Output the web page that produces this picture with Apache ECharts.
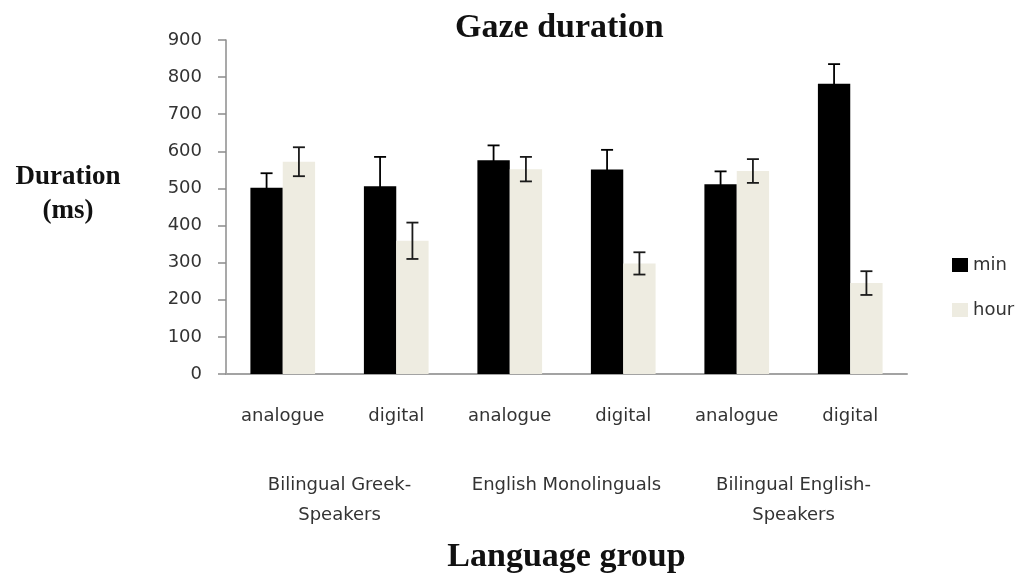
<!DOCTYPE html>
<html style="height: 100%">
<head>
<meta charset="utf-8">
<script type="text/javascript" src="https://cdn.jsdelivr.net/npm/echarts@6/dist/echarts.min.js"></script>
</head>
<body style="height: 100%; margin: 0; background: #fff">
<div id="container" style="width: 1019px; height: 576px"></div>
<script type="text/javascript">
// values
var conditions = ['analogue', 'digital', 'analogue', 'digital', 'analogue', 'digital'];
var groups = ['Bilingual Greek-\nSpeakers', 'English Monolinguals', 'Bilingual English-\nSpeakers'];
var minValues = [502, 506, 576, 551, 511, 782];
var minErr = [39, 79, 40, 53, 35, 53];
var hourValues = [572, 359, 552, 298, 547, 245];
var hourErr = [39, 49, 33, 30, 32, 32];

var GAP = 0.43;
var sans = 'DejaVu Sans';
var serif = 'Liberation Serif';

function errData(vals, errs) {
    var out = [];
    for (var i = 0; i < vals.length; i++) {
        out.push([i, vals[i] - errs[i], vals[i] + errs[i]]);
    }
    return out;
}

// sign = -1 for left bar (min), +1 for right bar (hour)
function errorBar(sign) {
    return function (params, api) {
        var idx = api.value(0);
        var lo = api.coord([idx, api.value(1)]);
        var hi = api.coord([idx, api.value(2)]);
        var band = api.size([1, 0])[0];
        var barW = band * (1 - GAP) / 2;
        var x = lo[0] + sign * barW / 2;
        var cap = 6;
        var st = {stroke: sign < 0 ? '#000' : '#1a1a1a', lineWidth: 1.8};
        return {
            type: 'group',
            children: [
                {type: 'line', shape: {x1: x, y1: hi[1], x2: x, y2: lo[1]}, style: st},
                {type: 'line', shape: {x1: x - cap, y1: hi[1], x2: x + cap, y2: hi[1]}, style: st},
                {type: 'line', shape: {x1: x - cap, y1: lo[1], x2: x + cap, y2: lo[1]}, style: st}
            ]
        };
    };
}

var myChart = echarts.init(document.getElementById('container'));
var option = {
    animation: false,
    title: {
        text: 'Gaze duration',
        left: 450,
        top: 6,
        textStyle: {fontFamily: serif, fontWeight: 'bold', fontSize: 34, color: '#111'}
    },
    graphic: [{
        type: 'text',
        x: 68,
        y: 194,
        style: {
            text: 'Duration\n(ms)',
            font: 'bold 27px "Liberation Serif"',
            lineHeight: 34,
            fill: '#111',
            align: 'center',
            verticalAlign: 'middle'
        }
    }],
    legend: {
        orient: 'vertical',
        left: 947,
        top: 251,
        itemWidth: 16,
        itemHeight: 14,
        itemGap: 27,
        icon: 'rect',
        textStyle: {fontFamily: sans, fontSize: 18, color: '#333'},
        data: ['min', 'hour']
    },
    grid: {left: 226, right: 112, top: 40, bottom: 202, containLabel: false, outerBoundsMode: 'none'},
    xAxis: [{
        type: 'category',
        data: conditions,
        axisLine: {lineStyle: {color: '#a3a3a3', width: 2}},
        axisTick: {show: false},
        axisLabel: {margin: 33, interval: 0, fontFamily: sans, fontSize: 18, color: '#333'},
        name: 'Language group',
        nameLocation: 'middle',
        nameGap: 166,
        nameTextStyle: {fontFamily: serif, fontWeight: 'bold', fontSize: 34, color: '#111'}
    }, {
        type: 'category',
        data: groups,
        position: 'bottom',
        axisLine: {show: false},
        axisTick: {show: false},
        axisLabel: {margin: 96, interval: 0, fontFamily: sans, fontSize: 18, lineHeight: 30, color: '#333'}
    }],
    yAxis: {
        type: 'value',
        min: 0,
        max: 900,
        interval: 100,
        splitLine: {show: false},
        axisLine: {show: true, lineStyle: {color: '#8c8c8c', width: 1.5}},
        axisTick: {show: true, length: 8, lineStyle: {color: '#8c8c8c', width: 1.5}},
        axisLabel: {margin: 24, fontFamily: sans, fontSize: 18, color: '#333'}
    },
    series: [{
        name: 'min',
        type: 'bar',
        data: minValues,
        barGap: '0%',
        barCategoryGap: (GAP * 100) + '%',
        itemStyle: {color: '#000'}
    }, {
        name: 'hour',
        type: 'bar',
        data: hourValues,
        itemStyle: {color: '#EEECE1'}
    }, {
        type: 'custom',
        renderItem: errorBar(-1),
        data: errData(minValues, minErr),
        encode: {x: 0, y: [1, 2]},
        z: 5
    }, {
        type: 'custom',
        renderItem: errorBar(1),
        data: errData(hourValues, hourErr),
        encode: {x: 0, y: [1, 2]},
        z: 5
    }]
};
myChart.setOption(option);
</script>
</body>
</html>
